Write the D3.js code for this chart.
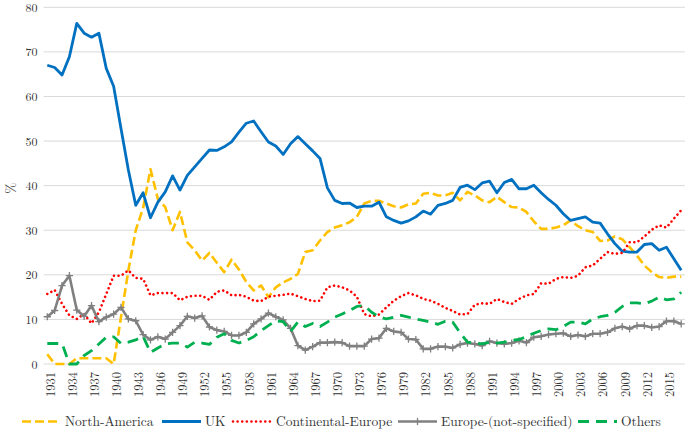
<!DOCTYPE html>
<html>
<head>
<meta charset="utf-8">
<script src="https://cdn.jsdelivr.net/npm/d3@7"></script>
<style>
  html, body { margin: 0; padding: 0; background: #ffffff; }
  svg { display: block; }
  text { font-family: "Latin Modern Roman", "CMU Serif", "Liberation Serif", "DejaVu Serif", serif; fill: #333333; }
</style>
</head>
<body>
<svg id="chart" width="685" height="429"></svg>
<script>
// ---------- DATA ----------
const years = d3.range(1931, 2018);
const yTicks = [0, 10, 20, 30, 40, 50, 60, 70, 80];
const xTickLabels = d3.range(1931, 2018, 3);
const seriesNames = ["North-America", "UK", "Continental-Europe", "Europe-(not-specified)", "Others"];

const northAmerica = [
  2.2, 0, 0, 0, 1.3, 1.3, 1.3, 1.3, 1.3, 0,
  10.5, 21.0, 30.0, 35.0, 43.7, 37.0, 35.2, 30.0, 34.1, 27.3,
  25.5, 23.2, 24.9, 22.7, 20.6, 23.4, 21.2, 18.4, 16.5, 17.6,
  15.0, 17.2, 18.3, 19.1, 20.2, 25.1, 25.5, 27.7, 29.6, 30.6,
  31.1, 31.8, 33.0, 36.0, 36.6, 36.6, 36.0, 35.4, 35.1, 35.8,
  36.0, 38.2, 38.4, 37.8, 37.8, 38.4, 36.7, 38.6, 37.8, 36.7,
  36.3, 37.5, 36.3, 35.2, 35.1, 34.1, 32.0, 30.3, 30.3, 30.6,
  31.1, 32.2, 30.9, 30.0, 29.6, 27.6, 27.7, 28.6, 28.0, 26.2,
  24.3, 22.1, 20.6, 19.5, 19.3, 19.6, 19.6
];
const uk = [
  67.0, 66.5, 64.8, 68.9, 76.4, 74.2, 73.3, 74.2, 66.3, 62.3,
  52.8, 43.5, 35.6, 38.4, 32.8, 36.3, 38.6, 42.2, 39.0, 42.3,
  44.2, 46.1, 48.0, 47.9, 48.7, 49.8, 52.0, 54.0, 54.5, 52.1,
  49.8, 48.9, 47.0, 49.4, 51.0, 49.4, 47.8, 46.1, 39.5, 36.7,
  36.0, 36.1, 35.1, 35.4, 35.4, 36.3, 33.0, 32.2, 31.6, 32.1,
  33.0, 34.3, 33.6, 35.6, 36.0, 36.7, 39.6, 40.1, 39.1, 40.6,
  41.0, 38.4, 40.7, 41.4, 39.3, 39.3, 40.1, 38.4, 36.9, 35.6,
  33.7, 32.2, 32.6, 33.0, 31.8, 31.6, 29.2, 27.0, 25.3, 25.1,
  25.1, 26.8, 27.0, 25.5, 26.2, 23.6, 21.0
];
const continentalEurope = [
  15.7, 16.6, 13.5, 10.9, 10.1, 11.2, 9.1, 11.6, 15.7, 19.8,
  19.8, 21.0, 19.3, 19.1, 15.4, 15.9, 15.9, 15.9, 14.3, 15.1,
  15.3, 15.3, 14.4, 16.2, 16.5, 15.4, 15.5, 15.1, 14.2, 14.1,
  15.1, 15.3, 15.5, 15.8, 15.2, 14.6, 14.1, 14.2, 17.2, 17.6,
  17.2, 16.5, 15.1, 11.2, 10.7, 11.1, 12.7, 14.2, 15.2, 15.9,
  15.4, 14.6, 14.2, 13.5, 12.6, 11.9, 11.1, 11.2, 13.3, 13.6,
  13.5, 14.6, 13.9, 13.5, 14.6, 15.4, 15.7, 18.1, 18.0, 19.1,
  19.5, 19.3, 19.8, 21.7, 22.1, 23.6, 25.1, 24.7, 24.9, 27.3,
  27.3, 28.6, 30.1, 31.1, 30.6, 32.6, 34.5
];
const europeNotSpecified = [
  10.6, 12.0, 17.6, 19.8, 12.1, 10.7, 13.1, 9.5, 10.5, 11.2,
  12.7, 10.1, 9.7, 6.6, 5.4, 6.1, 5.6, 7.1, 8.6, 10.7,
  10.3, 10.8, 8.3, 7.6, 7.3, 6.4, 6.4, 7.1, 9.0, 10.1,
  11.4, 10.6, 9.9, 8.0, 4.1, 3.1, 3.9, 4.8, 4.8, 4.9,
  4.8, 4.0, 4.0, 4.0, 5.6, 5.8, 8.0, 7.3, 7.1, 5.6,
  5.5, 3.4, 3.4, 3.9, 3.9, 3.6, 4.4, 4.7, 4.5, 4.1,
  5.1, 4.7, 4.5, 4.7, 5.2, 4.8, 6.0, 6.2, 6.6, 6.8,
  6.9, 6.2, 6.5, 6.2, 6.8, 6.8, 7.1, 8.0, 8.4, 7.9,
  8.6, 8.6, 8.2, 8.4, 9.6, 9.6, 9.0
];
const others = [
  4.6, 4.6, 4.6, 0, 0, 1.9, 3.0, 4.5, 6.0, 6.1,
  4.6, 4.9, 5.4, 6.2, 2.6, 3.6, 4.5, 4.7, 4.7, 3.8,
  4.9, 4.7, 4.4, 6.0, 6.8, 5.3, 4.7, 5.3, 6.1, 7.5,
  8.6, 9.7, 9.5, 7.3, 9.4, 8.4, 9.1, 8.4, 9.4, 10.5,
  11.2, 12.0, 12.9, 13.1, 11.6, 10.6, 10.1, 10.5, 10.9, 10.5,
  10.1, 9.8, 9.4, 8.9, 9.6, 9.4, 7.0, 4.9, 4.7, 4.5,
  4.9, 4.7, 4.9, 5.3, 5.5, 6.1, 6.9, 7.5, 7.9, 7.7,
  8.4, 9.4, 9.4, 9.0, 10.1, 10.6, 10.9, 11.6, 12.9, 13.7,
  13.7, 13.5, 14.1, 15.0, 14.4, 14.6, 16.1
];

// ---------- STYLES ----------
const styles = [
  { name: seriesNames[0], values: northAmerica,       color: "#FFC000", width: 2.6, dash: "9,4",      cap: "butt" },
  { name: seriesNames[1], values: uk,                 color: "#0070C0", width: 2.8, dash: null,       cap: "butt" },
  { name: seriesNames[2], values: continentalEurope,  color: "#FF0000", width: 2.6, dash: "0.01,4.6", cap: "round" },
  { name: seriesNames[3], values: europeNotSpecified, color: "#808080", width: 2.6, dash: null,       cap: "butt", marker: true },
  { name: seriesNames[4], values: others,             color: "#00B050", width: 2.8, dash: "11,7",     cap: "butt" }
];

const svg = d3.select("#chart");
const plotLeft = 43.6, plotRight = 684.9, plotTop = 7.3, plotBottom = 364;

const x = d3.scalePoint().domain(years).range([plotLeft, plotRight]).padding(0.5);
const y = d3.scaleLinear().domain([0, 80]).range([plotBottom, plotTop]);

// gridlines
svg.append("g").selectAll("line").data(yTicks).join("line")
  .attr("x1", plotLeft).attr("x2", plotRight)
  .attr("y1", d => y(d)).attr("y2", d => y(d))
  .attr("stroke", "#D9D9D9").attr("stroke-width", 1);

// y axis labels
const yAxis = d3.axisLeft(y).tickValues(yTicks).tickSize(0).tickPadding(0);
const gy = svg.append("g").attr("transform", `translate(37.5,0)`).call(yAxis);
gy.select(".domain").remove();
gy.selectAll("text").attr("font-size", 12).attr("fill", "#333").attr("font-family", null).attr("dy", "0.34em");

// x axis labels
const xAxis = d3.axisBottom(x).tickValues(xTickLabels).tickSize(0).tickPadding(0);
const gx = svg.append("g").attr("transform", `translate(2.4,${plotBottom})`).call(xAxis);
gx.select(".domain").remove();
gx.selectAll("text")
  .attr("font-size", 12.5).attr("fill", "#333").attr("font-family", null)
  .attr("transform", "rotate(-90)")
  .attr("text-anchor", "end")
  .attr("x", -8).attr("y", 0).attr("dy", "0.35em");

// y title
svg.append("text").attr("transform", "translate(10,188) rotate(-90)")
  .attr("text-anchor", "middle").attr("dy", "0.35em").attr("font-size", 13.5).text("%");

// lines
const lineGen = d3.line().x((d, i) => x(years[i])).y(d => y(d));
const gLines = svg.append("g");
styles.forEach(s => {
  gLines.append("path").datum(s.values)
    .attr("d", lineGen)
    .attr("fill", "none")
    .attr("stroke", s.color)
    .attr("stroke-width", s.width)
    .attr("stroke-linejoin", "round")
    .attr("stroke-linecap", s.cap)
    .attr("stroke-dasharray", s.dash);
  if (s.marker) {
    gLines.append("g").selectAll("path").data(s.values).join("path")
      .attr("d", (d, i) => {
        const cx = x(years[i]), cy = y(d), r = 3.6;
        return `M${cx - r},${cy}H${cx + r}M${cx},${cy - r}V${cy + r}`;
      })
      .attr("stroke", s.color).attr("stroke-width", 1.3).attr("fill", "none");
  }
});

// legend
const legendX = [22, 162, 233, 398, 578];
const legendY = 421.5;
const lg = svg.append("g");
styles.forEach((s, k) => {
  const x0 = legendX[k];
  lg.append("line").attr("x1", x0).attr("x2", x0 + 39).attr("y1", legendY).attr("y2", legendY)
    .attr("stroke", s.color).attr("stroke-width", s.width)
    .attr("stroke-linecap", s.cap).attr("stroke-dasharray", s.dash);
  if (s.marker) {
    lg.append("path").attr("d", `M${x0 + 19.5},${legendY - 3.6}V${legendY + 3.6}`)
      .attr("stroke", s.color).attr("stroke-width", 1.3);
  }
  lg.append("text").attr("x", x0 + 43).attr("y", legendY).attr("dy", "0.35em")
    .attr("font-size", 13.5).text(s.name);
});
</script>
</body>
</html>
